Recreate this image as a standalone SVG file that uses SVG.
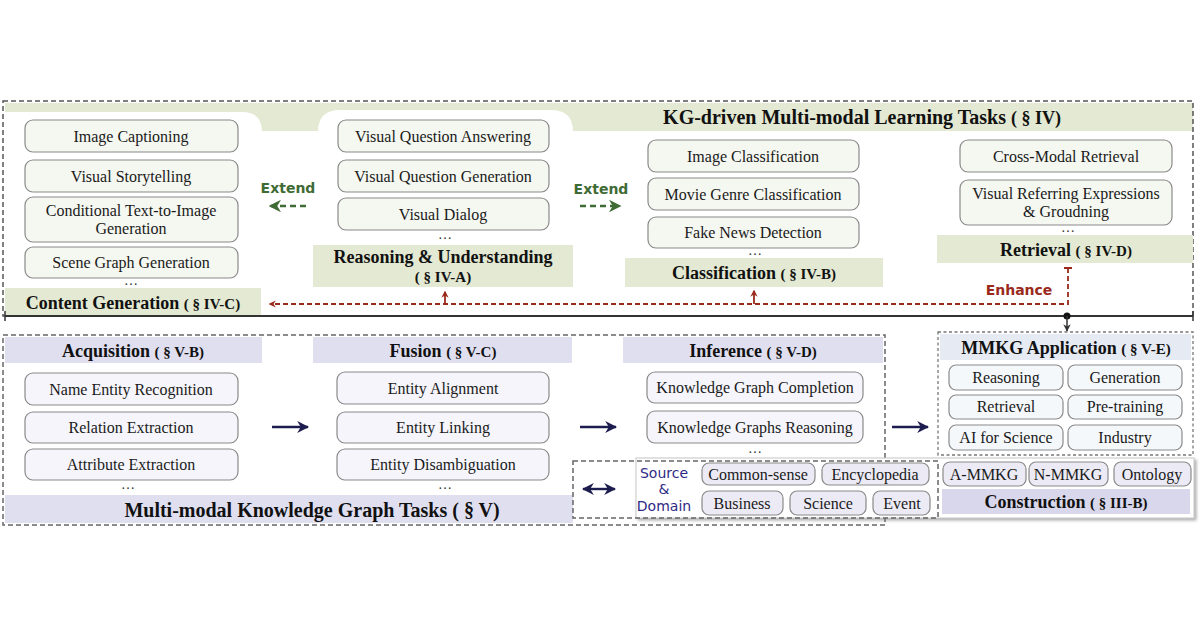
<svg xmlns="http://www.w3.org/2000/svg" width="1200" height="630" viewBox="0 0 1200 630">
<defs>
<style>
.t{font-family:"Liberation Serif","Times New Roman",serif;font-size:16px;fill:#1a1a1a;text-anchor:middle}
.b{font-family:"Liberation Serif","Times New Roman",serif;font-weight:bold;font-size:18px;fill:#111;text-anchor:middle}
.s{font-size:15px}
.big{font-size:20px}
.c{font-family:"DejaVu Sans",sans-serif;font-size:14px;text-anchor:middle}
.gbox{fill:#f5f7f1;stroke:#8a8a8a;stroke-width:1.2}
.pbox{fill:#f5f5fb;stroke:#8a8a8a;stroke-width:1.2}
.abox{fill:#f5f8fb;stroke:#8a8a8a;stroke-width:1.2}
.chip{fill:#ecebf5;stroke:#8a8a8a;stroke-width:1.2}
.gband{fill:#e3e9d2}
.pband{fill:#dfdff0}
.dots{font-family:"Liberation Serif",serif;font-size:14px;fill:#333;text-anchor:middle}
</style>
<marker id="gArr" viewBox="0 0 10 10" refX="8" refY="5" markerWidth="5" markerHeight="5" orient="auto"><path d="M0,0 L10,5 L0,10 L3,5 Z" fill="#3f6b35"/></marker>
<marker id="rArr" viewBox="0 0 10 10" refX="8" refY="5" markerWidth="4" markerHeight="4" orient="auto"><path d="M0,0 L10,5 L0,10 L3,5 Z" fill="#9a2a1c"/></marker>
<marker id="nArr" viewBox="0 0 10 10" refX="9" refY="5" markerWidth="5" markerHeight="5" orient="auto-start-reverse"><path d="M0,0 L10,5 L0,10 L3,5 Z" fill="#1c1c4e"/></marker>
<marker id="kArr" viewBox="0 0 10 10" refX="9" refY="5" markerWidth="5" markerHeight="5" orient="auto"><path d="M0,0 L10,5 L0,10 L3,5 Z" fill="#333"/></marker>
<filter id="sh" x="-5%" y="-20%" width="110%" height="150%"><feDropShadow dx="2" dy="2" stdDeviation="1.5" flood-color="#777" flood-opacity="0.6"/></filter>
</defs>
<rect width="1200" height="630" fill="#ffffff"/>

<g id="top-frame">
<rect x="5" y="103" width="1188" height="28" class="gband"/>
<path d="M5,112 H242 Q262,112 262,132 V316 H5 Z" fill="#ffffff"/>
<path d="M318,316 V132 Q318,110 340,110 H551 Q573,110 573,132 V316 Z" fill="#ffffff"/>
<rect x="3" y="101" width="1190" height="215" fill="none" stroke="#555" stroke-width="1.5" stroke-dasharray="5,3"/>
<text x="862" y="124" class="b big">KG-driven Multi-modal Learning Tasks <tspan font-size="18px">( § IV)</tspan></text>
</g>

<g id="content-generation">
<rect x="25" y="120" width="213" height="32" rx="8" class="gbox"/>
<text x="131" y="142" class="t">Image Captioning</text>
<rect x="25" y="160" width="213" height="32" rx="8" class="gbox"/>
<text x="131" y="182" class="t">Visual Storytelling</text>
<rect x="25" y="197" width="213" height="45" rx="8" class="gbox"/>
<text x="131" y="216" class="t">Conditional Text-to-Image</text>
<text x="131" y="234" class="t">Generation</text>
<rect x="25" y="247" width="213" height="31" rx="8" class="gbox"/>
<text x="131" y="268" class="t">Scene Graph Generation</text>
<text x="131" y="285" class="dots">…</text>
<rect x="5" y="288" width="256" height="27" class="gband"/>
<text x="133" y="309" class="b">Content Generation <tspan class="s">( § IV-C)</tspan></text>
</g>

<g id="reasoning">
<rect x="338" y="120" width="211" height="32" rx="8" class="gbox"/>
<text x="443" y="142" class="t">Visual Question Answering</text>
<rect x="338" y="160" width="211" height="32" rx="8" class="gbox"/>
<text x="443" y="182" class="t">Visual Question Generation</text>
<rect x="338" y="198" width="211" height="32" rx="8" class="gbox"/>
<text x="443" y="220" class="t">Visual Dialog</text>
<text x="445" y="239" class="dots">…</text>
<rect x="313" y="245" width="260" height="42" class="gband"/>
<text x="443" y="263" class="b">Reasoning &amp; Understanding</text>
<text x="443" y="282" class="b s">( § IV-A)</text>
</g>

<g id="classification">
<rect x="648" y="140" width="211" height="32" rx="8" class="gbox"/>
<text x="753" y="162" class="t">Image Classification</text>
<rect x="648" y="178" width="211" height="32" rx="8" class="gbox"/>
<text x="753" y="200" class="t">Movie Genre Classification</text>
<rect x="648" y="217" width="211" height="31" rx="8" class="gbox"/>
<text x="753" y="238" class="t">Fake News Detection</text>
<text x="755" y="255" class="dots">…</text>
<rect x="625" y="258" width="258" height="29" class="gband"/>
<text x="754" y="279" class="b">Classification <tspan class="s">( § IV-B)</tspan></text>
</g>

<g id="retrieval">
<rect x="960" y="140" width="212" height="32" rx="8" class="gbox"/>
<text x="1066" y="162" class="t">Cross-Modal Retrieval</text>
<rect x="960" y="180" width="212" height="45" rx="8" class="gbox"/>
<text x="1066" y="199" class="t">Visual Referring Expressions</text>
<text x="1066" y="217" class="t">&amp; Groudning</text>
<text x="1068" y="232" class="dots">…</text>
<rect x="937" y="235" width="256" height="28" class="gband"/>
<text x="1066" y="256" class="b">Retrieval <tspan class="s">( § IV-D)</tspan></text>
</g>

<g id="bottom-frame">
<rect x="5" y="495" width="568" height="28" class="pband"/>
<rect x="3" y="335" width="882" height="190" fill="none" stroke="#666" stroke-width="1.5" stroke-dasharray="5,3"/>
<text x="312" y="517" class="b big">Multi-modal Knowledge Graph Tasks <tspan>( § V)</tspan></text>
</g>

<g id="acquisition">
<rect x="5" y="337" width="257" height="26" class="pband"/>
<text x="133" y="357" class="b">Acquisition <tspan class="s">( § V-B)</tspan></text>
<rect x="25" y="373" width="213" height="32" rx="8" class="pbox"/>
<text x="131" y="395" class="t">Name Entity Recognition</text>
<rect x="25" y="412" width="213" height="31" rx="8" class="pbox"/>
<text x="131" y="433" class="t">Relation Extraction</text>
<rect x="25" y="449" width="213" height="31" rx="8" class="pbox"/>
<text x="131" y="470" class="t">Attribute Extraction</text>
<text x="128" y="489" class="dots">…</text>
</g>

<g id="fusion">
<rect x="313" y="337" width="259" height="26" class="pband"/>
<text x="443" y="357" class="b">Fusion <tspan class="s">( § V-C)</tspan></text>
<rect x="337" y="372" width="212" height="32" rx="8" class="pbox"/>
<text x="443" y="394" class="t">Entity Alignment</text>
<rect x="337" y="412" width="212" height="31" rx="8" class="pbox"/>
<text x="443" y="433" class="t">Entity Linking</text>
<rect x="337" y="449" width="212" height="31" rx="8" class="pbox"/>
<text x="443" y="470" class="t">Entity Disambiguation</text>
<text x="445" y="489" class="dots">…</text>
</g>

<g id="inference">
<rect x="623" y="337" width="260" height="26" class="pband"/>
<text x="753" y="357" class="b">Inference <tspan class="s">( § V-D)</tspan></text>
<rect x="647" y="372" width="216" height="31" rx="8" class="pbox"/>
<text x="755" y="393" class="t">Knowledge Graph Completion</text>
<rect x="647" y="411" width="216" height="32" rx="8" class="pbox"/>
<text x="755" y="433" class="t">Knowledge Graphs Reasoning</text>
<text x="755" y="453" class="dots">…</text>
</g>

<g id="mmkg-application">
<rect x="938" y="332" width="255" height="123" fill="#ffffff" stroke="#777" stroke-width="1.3" stroke-dasharray="3,2.5"/>
<rect x="940" y="334" width="251" height="26" fill="#e6ebf3"/>
<text x="1066" y="354" class="b">MMKG Application <tspan class="s">( § V-E)</tspan></text>
<rect x="949" y="365" width="114" height="25" rx="7" class="abox"/>
<text x="1006" y="383" class="t">Reasoning</text>
<rect x="1068" y="365" width="114" height="25" rx="7" class="abox"/>
<text x="1125" y="383" class="t">Generation</text>
<rect x="949" y="395" width="114" height="24" rx="7" class="abox"/>
<text x="1006" y="412" class="t">Retrieval</text>
<rect x="1068" y="395" width="114" height="24" rx="7" class="abox"/>
<text x="1125" y="412" class="t">Pre-training</text>
<rect x="949" y="425" width="114" height="25" rx="7" class="abox"/>
<text x="1006" y="443" class="t">AI for Science</text>
<rect x="1068" y="425" width="114" height="25" rx="7" class="abox"/>
<text x="1125" y="443" class="t">Industry</text>
</g>

<g id="construction">
<rect x="636" y="458" width="558" height="60" fill="#ffffff" stroke="#c8c8c8" stroke-width="1" filter="url(#sh)"/>
<rect x="573" y="461" width="365" height="57" fill="none" stroke="#666" stroke-width="1.5" stroke-dasharray="5,3"/>
<text x="664" y="478" class="c" fill="#2e2a85">Source</text>
<text x="664" y="494" class="c" fill="#2e2a85">&amp;</text>
<text x="664" y="511" class="c" fill="#2e2a85">Domain</text>
<rect x="702" y="463" width="113" height="22" rx="7" class="chip"/>
<text x="758" y="480" class="t">Common-sense</text>
<rect x="822" y="463" width="107" height="22" rx="7" class="chip"/>
<text x="875" y="480" class="t">Encyclopedia</text>
<rect x="702" y="491" width="81" height="24" rx="7" class="chip"/>
<text x="742" y="509" class="t">Business</text>
<rect x="790" y="491" width="76" height="24" rx="7" class="chip"/>
<text x="828" y="509" class="t">Science</text>
<rect x="873" y="491" width="57" height="24" rx="7" class="chip"/>
<text x="902" y="509" class="t">Event</text>
<rect x="943" y="462" width="83" height="24" rx="7" class="chip"/>
<text x="984" y="480" class="t">A-MMKG</text>
<rect x="1029" y="462" width="79" height="24" rx="7" class="chip"/>
<text x="1068" y="480" class="t">N-MMKG</text>
<rect x="1114" y="462" width="77" height="24" rx="7" class="chip"/>
<text x="1152" y="480" class="t">Ontology</text>
<rect x="942" y="489" width="248" height="25" fill="#d9d7ec"/>
<text x="1066" y="508" class="b">Construction <tspan class="s">( § III-B)</tspan></text>
</g>

<g id="connectors">
<text x="288" y="193" class="c" fill="#3f6b35" font-weight="bold">Extend</text>
<line x1="306" y1="206" x2="271" y2="206" stroke="#3f6b35" stroke-width="2.5" stroke-dasharray="6,4" marker-end="url(#gArr)"/>
<text x="601" y="194" class="c" fill="#3f6b35" font-weight="bold">Extend</text>
<line x1="580" y1="206" x2="619" y2="206" stroke="#3f6b35" stroke-width="2.5" stroke-dasharray="6,4" marker-end="url(#gArr)"/>
<text x="1019" y="295" class="c" fill="#9a2a1c" font-weight="bold" font-size="15px">Enhance</text>
<path d="M1068,268 V304 H270" fill="none" stroke="#9a2a1c" stroke-width="1.8" stroke-dasharray="5,3" marker-end="url(#rArr)"/>
<line x1="1064" y1="268" x2="1072" y2="268" stroke="#9a2a1c" stroke-width="2"/>
<line x1="445" y1="304" x2="445" y2="292" stroke="#9a2a1c" stroke-width="1.8" marker-end="url(#rArr)"/>
<line x1="754" y1="304" x2="754" y2="291" stroke="#9a2a1c" stroke-width="1.8" marker-end="url(#rArr)"/>
<line x1="5" y1="316" x2="1193" y2="316" stroke="#333" stroke-width="2"/>
<line x1="5" y1="311" x2="5" y2="321" stroke="#333" stroke-width="1.5"/>
<line x1="1193" y1="311" x2="1193" y2="321" stroke="#333" stroke-width="1.5"/>
<circle cx="1067" cy="316" r="3.5" fill="#111"/>
<line x1="1067" y1="316" x2="1067" y2="331" stroke="#333" stroke-width="1.5" marker-end="url(#kArr)"/>
<line x1="272" y1="427" x2="308" y2="427" stroke="#1c1c4e" stroke-width="2.4" marker-end="url(#nArr)"/>
<line x1="580" y1="427" x2="616" y2="427" stroke="#1c1c4e" stroke-width="2.4" marker-end="url(#nArr)"/>
<line x1="892" y1="427" x2="928" y2="427" stroke="#1c1c4e" stroke-width="2.4" marker-end="url(#nArr)"/>
<line x1="583" y1="489" x2="615" y2="489" stroke="#1c1c4e" stroke-width="2.4" marker-start="url(#nArr)" marker-end="url(#nArr)"/>
</g>
</svg>
